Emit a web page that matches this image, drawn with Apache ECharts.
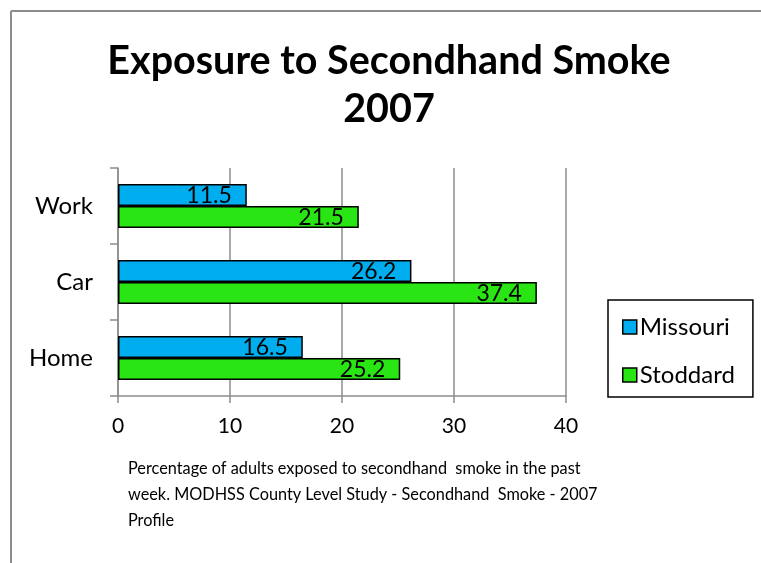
<!DOCTYPE html>
<html>
<head>
<meta charset="utf-8">
<script src="https://cdn.jsdelivr.net/npm/echarts@6/dist/echarts.min.js"></script>
<style>
html,body{margin:0;padding:0;background:#fff;}
#chart{width:761px;height:563px;}
</style>
</head>
<body>
<div id="chart"></div>
<script>
const categories = ['Home', 'Car', 'Work'];
const missouri = [16.5, 26.2, 11.5];
const stoddard = [25.2, 37.4, 21.5];
const seriesNames = ['Missouri', 'Stoddard'];
const titleText = 'Exposure to Secondhand Smoke\n2007';
const captionText = 'Percentage of adults exposed to secondhand  smoke in the past\nweek. MODHSS County Level Study - Secondhand  Smoke - 2007\nProfile';

const FONT = 'Lato, "Open Sans", sans-serif';
const chart = echarts.init(document.getElementById('chart'));

const labelCfg = {
  show: true,
  position: 'insideRight',
  distance: 15,
  offset: [0, 1],
  color: '#000',
  fontSize: 23,
  fontFamily: FONT
};

chart.setOption({
  backgroundColor: '#fff',
  animation: false,
  title: {
    text: titleText,
    left: 384,
    top: 32,
    textAlign: 'center',
    textStyle: {
      fontSize: 39.5,
      fontWeight: 'bold',
      fontFamily: FONT,
      color: '#000',
      lineHeight: 48
    }
  },
  legend: {
    orient: 'vertical',
    left: 608,
    top: 300,
    padding: [15, 18, 10, 14],
    itemGap: 24,
    itemWidth: 14,
    itemHeight: 14,
    itemStyle: { borderColor: '#000', borderWidth: 1.5 },
    borderColor: '#000',
    borderWidth: 1.5,
    icon: 'rect',
    textStyle: { fontSize: 24, fontFamily: FONT, color: '#000', padding: [0, 0, 0, -2] },
    data: seriesNames
  },
  grid: { left: 118, right: 195, top: 168, bottom: 167, containLabel: false },
  xAxis: {
    type: 'value',
    min: 0,
    max: 40,
    interval: 10,
    axisLine: { show: true, lineStyle: { color: '#8c8c8c', width: 1.5 } },
    axisTick: { show: true, length: 7, lineStyle: { color: '#8c8c8c', width: 1.5 } },
    axisLabel: { fontSize: 21, fontFamily: FONT, color: '#000', margin: 20 },
    splitLine: { show: true, lineStyle: { color: '#8c8c8c', width: 1.5 } }
  },
  yAxis: {
    type: 'category',
    data: categories,
    axisLine: { show: true, lineStyle: { color: '#8c8c8c', width: 1.5 } },
    axisTick: { show: true, length: 8, lineStyle: { color: '#8c8c8c', width: 1.5 } },
    axisLabel: { fontSize: 24, fontFamily: FONT, color: '#000', margin: 25 }
  },
  graphic: [
    { type: 'line', shape: { x1: 11, y1: 11, x2: 761, y2: 11 }, style: { stroke: '#8c8c8c', lineWidth: 2 } },
    { type: 'line', shape: { x1: 11, y1: 11, x2: 11, y2: 563 }, style: { stroke: '#8c8c8c', lineWidth: 2 } },
    {
      type: 'text',
      left: 128,
      top: 456,
      style: {
        text: captionText,
        fontSize: 16.3,
        lineHeight: 26,
        fontFamily: FONT,
        fill: '#000'
      }
    }
  ],
  series: [
    {
      name: seriesNames[0],
      type: 'bar',
      data: missouri,
      barCategoryGap: '42%',
      barGap: '0%',
      itemStyle: { color: '#00AEEF', borderColor: '#000', borderWidth: 1.5 },
      label: labelCfg
    },
    {
      name: seriesNames[1],
      type: 'bar',
      data: stoddard,
      barCategoryGap: '42%',
      barGap: '0%',
      itemStyle: { color: '#2AE514', borderColor: '#000', borderWidth: 1.5 },
      label: labelCfg
    }
  ]
});
</script>
</body>
</html>
